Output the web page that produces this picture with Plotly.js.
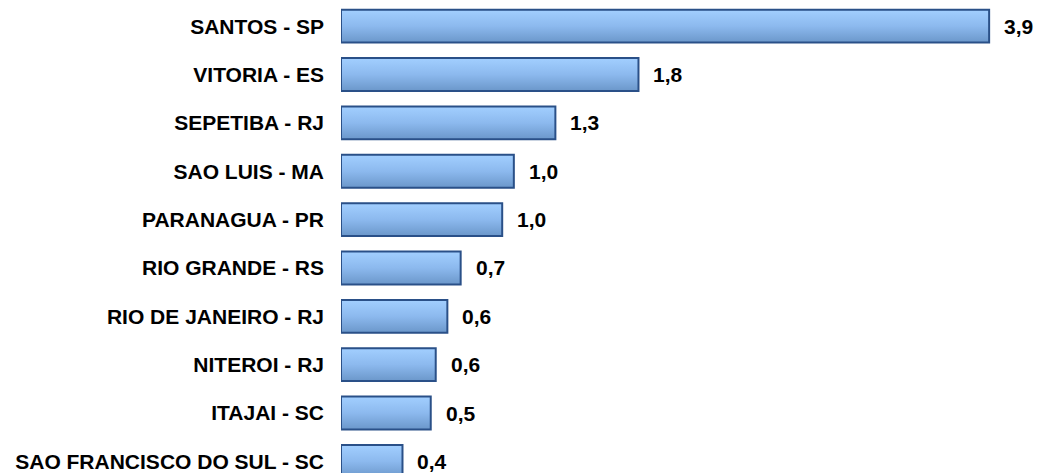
<!DOCTYPE html>
<html>
<head>
<meta charset="utf-8">
<script src="https://cdn.plot.ly/plotly-3.0.1.min.js"></script>
<style>
  html, body { margin: 0; padding: 0; background: #ffffff; }
  #chart { width: 1037px; height: 473px; }
</style>
</head>
<body>
<div id="chart"></div>
<script>
// Data
const ports = [
  "SANTOS - SP",
  "VITORIA - ES",
  "SEPETIBA - RJ",
  "SAO LUIS - MA",
  "PARANAGUA - PR",
  "RIO GRANDE - RS",
  "RIO DE JANEIRO - RJ",
  "NITEROI - RJ",
  "ITAJAI - SC",
  "SAO FRANCISCO DO SUL - SC"
];
const values = [3.9, 1.79, 1.29, 1.04, 0.97, 0.72, 0.64, 0.57, 0.54, 0.37];

const fmt = v => v.toFixed(1).replace('.', ',');
const labelFont = { family: "Liberation Sans, Arial, sans-serif", size: 21, color: "#000000", weight: "bold" };

const trace = {
  type: "bar",
  orientation: "h",
  y: ports,
  x: values,
  marker: { color: "#86b2e6", line: { color: "#2a5088", width: 2 } },
  hoverinfo: "none"
};

const annotations = ports.map((p, i) => ({
  x: values[i], y: p, xref: "x", yref: "y",
  text: fmt(values[i]), showarrow: false,
  xanchor: "left", yanchor: "middle", xshift: 13,
  font: labelFont
}));

const layout = {
  width: 1037, height: 473,
  margin: { l: 341, r: 0, t: 2, b: 0 },
  paper_bgcolor: "#ffffff", plot_bgcolor: "#ffffff",
  showlegend: false,
  bargap: 0.32,
  xaxis: { range: [0, 4.188], showgrid: false, zeroline: false, showline: false, showticklabels: false, ticks: "" },
  yaxis: {
    categoryorder: "array", categoryarray: ports,
    range: [9.24, -0.5],
    showgrid: false, zeroline: false, showline: false, ticks: "",
    ticklabelstandoff: 16,
    tickfont: labelFont
  },
  annotations: annotations
};

function applyGradient(gd) {
  const svg = gd.querySelector("svg.main-svg");
  if (!svg) return;
  const ns = "http://www.w3.org/2000/svg";
  let defs = svg.querySelector("defs");
  if (!defs) { defs = document.createElementNS(ns, "defs"); svg.insertBefore(defs, svg.firstChild); }
  if (!svg.querySelector("#barGrad")) {
    const lg = document.createElementNS(ns, "linearGradient");
    lg.setAttribute("id", "barGrad");
    lg.setAttribute("x1", "0"); lg.setAttribute("y1", "0");
    lg.setAttribute("x2", "0"); lg.setAttribute("y2", "1");
    [["0", "#a2cfff"], ["0.5", "#8cb9ee"], ["1", "#6b97ca"]].forEach(([o, c]) => {
      const s = document.createElementNS(ns, "stop");
      s.setAttribute("offset", o); s.setAttribute("stop-color", c);
      lg.appendChild(s);
    });
    defs.appendChild(lg);
  }
  gd.querySelectorAll("g.trace.bars g.point path").forEach(p => {
    p.style.fill = "url(#barGrad)";
  });
}

const gd = document.getElementById("chart");
Plotly.newPlot(gd, [trace], layout, { displayModeBar: false, staticPlot: true }).then(() => {
  applyGradient(gd);
  gd.on("plotly_afterplot", () => applyGradient(gd));
});
</script>
</body>
</html>
